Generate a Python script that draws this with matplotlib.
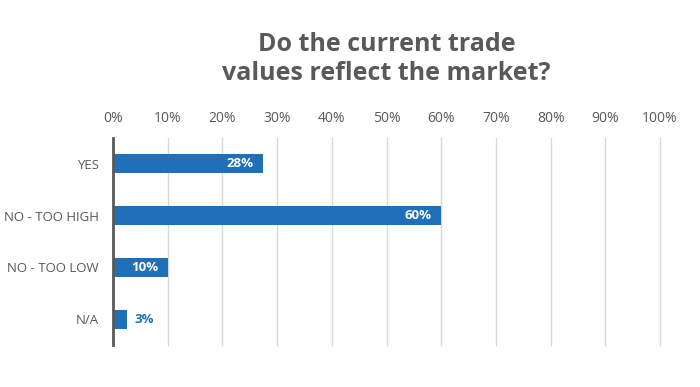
import numpy as np
import matplotlib
matplotlib.use("Agg")
import matplotlib.pyplot as plt
from matplotlib.ticker import FuncFormatter

# ── dati ─────────────────────────────────────────────────────
categories = ["YES", "NO - TOO HIGH", "NO - TOO LOW", "N/A"]
values     = [27.5, 60, 10, 2.5]
labels     = ["28%", "60%", "10%", "3%"]
xticks     = np.arange(0, 101, 10)

BLUE = "#1f70b8"
GREY = "#595959"

plt.rcParams['font.family'] = ['Open Sans', 'DejaVu Sans']

fig = plt.figure(figsize=(7, 3.87), dpi=100)
ax = fig.add_axes([113/700, 1 - 345/387, (660-113)/700, (345-138)/387])

y = np.arange(len(categories))
ax.barh(y, values, height=0.37, color=BLUE, zorder=3)

for yi, v, lab in zip(y, values, labels):
    if v > 6:
        ax.text(v - 1.8, yi, lab, ha="right", va="center", color="white",
                fontsize=9.5, fontweight="bold", zorder=4)
    else:
        ax.text(v + 1.5, yi, lab, ha="left", va="center", color=BLUE,
                fontsize=9.5, fontweight="bold", zorder=4)

ax.set_xlim(0, 100)
ax.set_ylim(len(categories) - 0.5, -0.5)
ax.set_xticks(xticks)
ax.xaxis.set_major_formatter(FuncFormatter(lambda v, p: f"{v:.0f}%"))
ax.xaxis.tick_top()
ax.set_yticks(y)
ax.set_yticklabels(categories)
ax.tick_params(axis="x", length=0, pad=9, labelsize=10, labelcolor=GREY)
ax.tick_params(axis="y", length=0, pad=10, labelsize=9.5, labelcolor=GREY)

ax.grid(axis="x", color="#d9d9d9", lw=1, zorder=0)
for gl in ax.get_xgridlines():
    gl.set_clip_on(False)
for s in ["top", "right", "bottom"]:
    ax.spines[s].set_visible(False)
ax.spines["left"].set_color(GREY)
ax.spines["left"].set_linewidth(2)
ax.spines["left"].set_zorder(5)

fig.text((113 + 660) / 2 / 700, 1 - 59/387, "Do the current trade\nvalues reflect the market?",
         ha="center", va="center", fontsize=18, fontweight="bold", color=GREY,
         linespacing=1.2)

fig.savefig("out.png", dpi=100)
